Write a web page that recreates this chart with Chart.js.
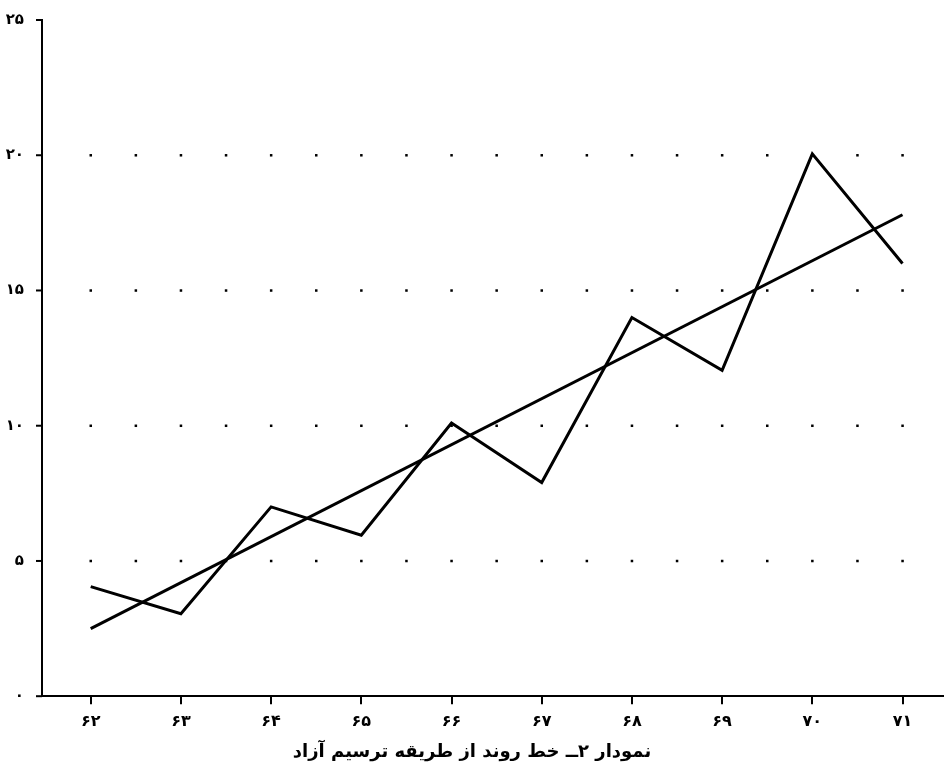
<!DOCTYPE html>
<html><head><meta charset="utf-8">
<script src="https://cdn.jsdelivr.net/npm/chart.js"></script>
<style>html,body{margin:0;padding:0;background:#fff}#w{width:944px;height:771px}</style>
</head><body><div id="w"><canvas id="c"></canvas></div>
<script>
const years=[62,63,64,65,66,67,68,69,70,71];
const actual=[4.05,3.05,7.0,5.95,10.1,7.9,14.0,12.05,20.05,16.0];
const trend=[2.5,17.8];
const trendYears=[62,71];
const yTicks=[0,5,10,15,20,25];
const dotRows=[5,10,15,20];
const title='نمودار ۲ــ خط روند از طریقه ترسیم آزاد';
const fa=n=>String(n).replace(/\d/g,d=>'۰۱۲۳۴۵۶۷۸۹'[d]);
new Chart(document.getElementById('c'),{
type:'scatter',
data:{datasets:[
{data:years.map((x,i)=>({x,y:actual[i]})),showLine:true,borderColor:'#000',borderWidth:3,pointRadius:0,tension:0},
{data:trendYears.map((x,i)=>({x,y:trend[i]})),showLine:true,borderColor:'#000',borderWidth:3,pointRadius:0}
]},
options:{responsive:true,maintainAspectRatio:false,animation:false,
layout:{padding:{top:20,right:0,left:0,bottom:4}},
plugins:{legend:{display:false},tooltip:{enabled:false},
title:{display:true,position:'bottom',text:title,color:'#000',font:{family:'DejaVu Sans',size:18,weight:'bold'},padding:{top:2,bottom:4}}},
scales:{
x:{type:'linear',min:61.46,max:71.46,afterBuildTicks:a=>{a.ticks=years.map(v=>({value:v}));},
border:{color:'#000',width:2},grid:{display:true,drawOnChartArea:false,drawTicks:true,tickLength:8,color:'#000',lineWidth:2},
ticks:{color:'#000',font:{family:'DejaVu Sans',size:16,weight:'bold'},callback:v=>fa(v),padding:8,maxRotation:0}},
y:{min:0,max:25,afterBuildTicks:a=>{a.ticks=yTicks.map(v=>({value:v}));},afterFit:s=>{s.width=42;},
border:{color:'#000',width:2},grid:{display:false},
ticks:{color:'#000',font:{family:'DejaVu Sans',size:15,weight:'bold'},callback:v=>fa(v),padding:10}}
}},
plugins:[{id:'yt',beforeDatasetsDraw(ch){const c=ch.ctx,y=ch.scales.y,x=ch.scales.x,x0=ch.chartArea.left;c.save();c.strokeStyle='#000';c.fillStyle='#000';c.lineWidth=2;
yTicks.forEach(v=>{const p=y.getPixelForValue(v);c.beginPath();c.moveTo(x0-6,p);c.lineTo(x0,p);c.stroke();});
dotRows.forEach(v=>{const p=y.getPixelForValue(v);for(let k=0;k<=19;k++){const px=x.getPixelForValue(62+k*0.5);c.fillRect(px-1.2,p-1.2,2.5,2.5);}});
c.restore();}}]
});
</script></body></html>
